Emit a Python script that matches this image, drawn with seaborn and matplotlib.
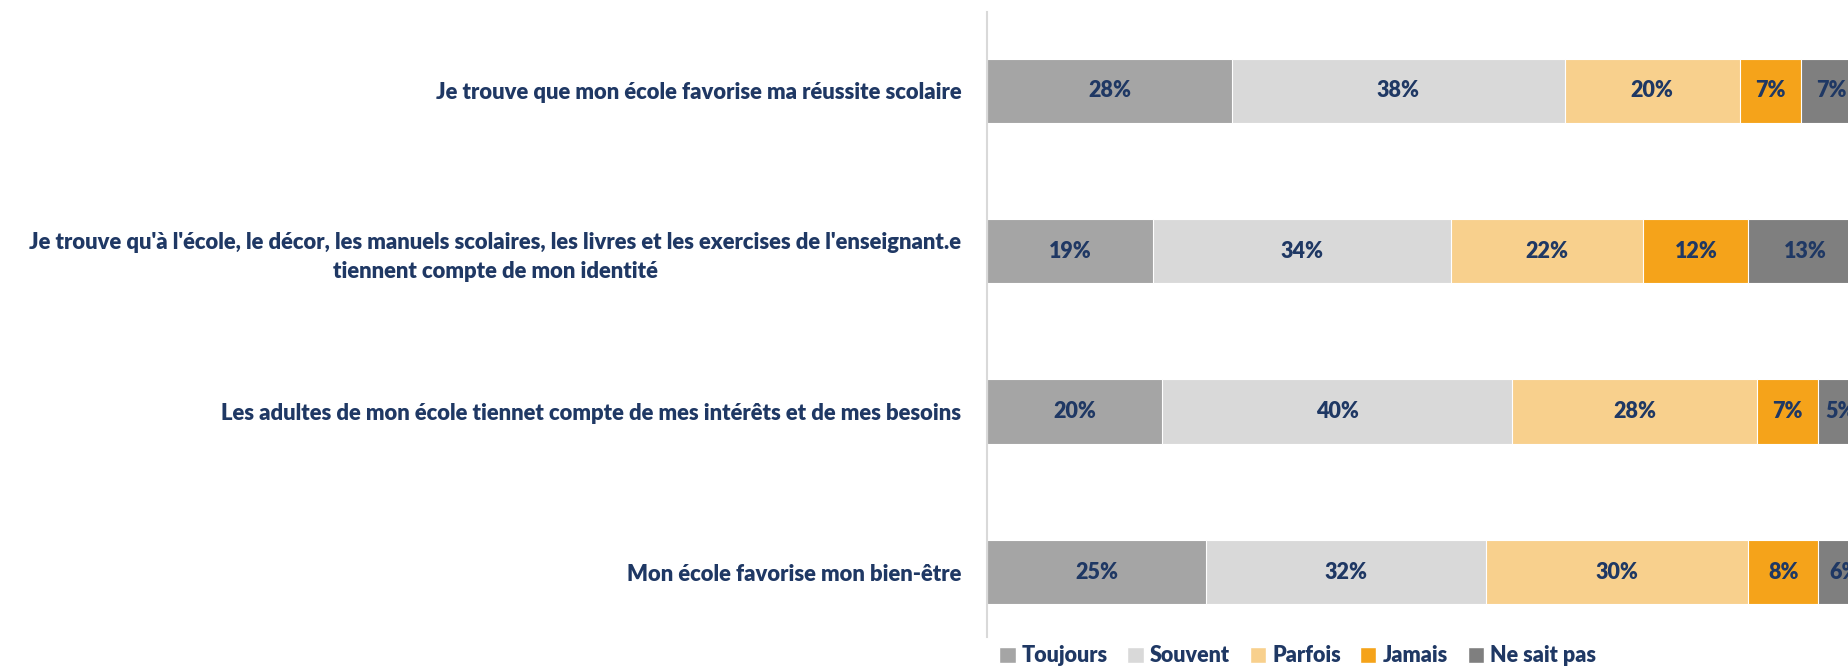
import seaborn as sns
import matplotlib.pyplot as plt
import numpy as np
import pandas as pd
from matplotlib.patches import Patch

sns.set_style("white")
plt.rcParams['font.family'] = ['Lato', 'DejaVu Sans']

questions = [
    "Je trouve que mon école favorise ma réussite scolaire",
    "Je trouve qu'à l'école, le décor, les manuels scolaires, les livres et les exercises de l'enseignant.e\ntiennent compte de mon identité",
    "Les adultes de mon école tiennet compte de mes intérêts et de mes besoins",
    "Mon école favorise mon bien-être",
]
answers = ["Toujours", "Souvent", "Parfois", "Jamais", "Ne sait pas"]
toujours = [28, 19, 20, 25]
souvent = [38, 34, 40, 32]
parfois = [20, 22, 28, 30]
jamais = [7, 12, 7, 8]
ne_sait_pas = [7, 13, 5, 6]
colors = ["#A5A5A5", "#D9D9D9", "#F8D08D", "#F5A31A", "#7F7F7F"]
text_color = "#1F3864"

df = pd.DataFrame({"q": questions, "Toujours": toujours, "Souvent": souvent,
                   "Parfois": parfois, "Jamais": jamais, "Ne sait pas": ne_sait_pas})
cum = df[answers].cumsum(axis=1)

fig = plt.figure(figsize=(18.49, 6.66), dpi=100)
ax = fig.add_axes([987/1849, 29/666, 1 - 987/1849, 625/666])

# stacked bars: draw the cumulative totals from the widest down
for ans, col in reversed(list(zip(answers, colors))):
    sns.barplot(x=cum[ans], y=df["q"], color=col, width=0.4, orient="h",
                ax=ax, saturation=1, edgecolor="white", linewidth=0.8)

for i in range(len(questions)):
    for ans in answers:
        v = df.loc[i, ans]
        ax.text(cum.loc[i, ans] - v / 2, i, f"{v}%", ha="center", va="center",
                fontsize=15.5, fontweight="heavy", color=text_color, clip_on=False)

ax.set_xlim(0, 98.5)
ax.set_ylim(3.405, -0.49)
ax.set_xlabel("")
ax.set_ylabel("")
ax.set_xticks([])
ax.tick_params(axis="y", length=0, pad=18.5)
for lbl in ax.get_yticklabels():
    lbl.set_fontsize(15.8)
    lbl.set_fontweight("heavy")
    lbl.set_color(text_color)
    lbl.set_multialignment("center")
    lbl.set_linespacing(1.45)
for s in ["top", "right", "bottom"]:
    ax.spines[s].set_visible(False)
ax.spines["left"].set_color("#D9D9D9")
ax.spines["left"].set_linewidth(1.5)

handles = [Patch(facecolor=c, label=a) for a, c in zip(answers, colors)]
fig.legend(handles=handles, loc="center left", bbox_to_anchor=(980/1849, 1 - 656/666),
           ncol=5, frameon=False, handlelength=0.75, handleheight=0.75,
           handletextpad=0.3, columnspacing=0.9,
           prop={"size": 15.5, "weight": "heavy"}, labelcolor=text_color)

fig.savefig("out.png", dpi=100)
